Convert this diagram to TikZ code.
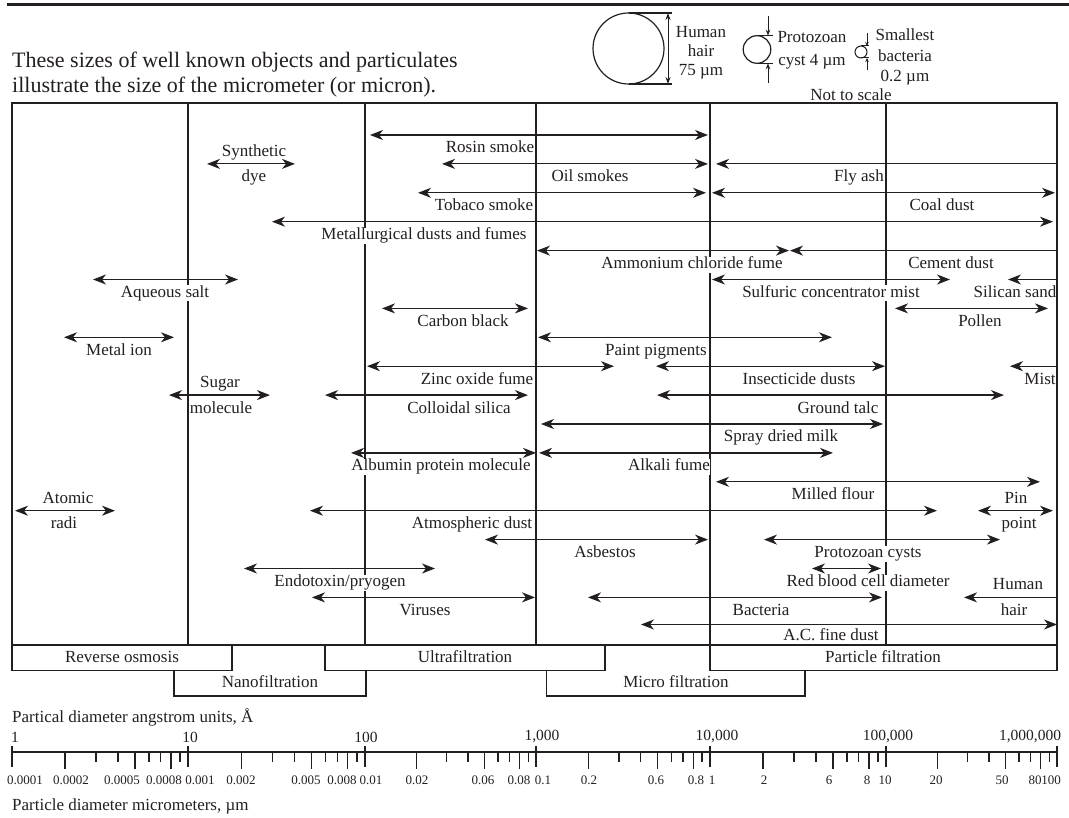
\documentclass[tikz,border=0pt]{standalone}
\usepackage{fontspec}
\setmainfont{Liberation Serif}
\usepackage{tikz}
\usetikzlibrary{arrows.meta}
\definecolor{ink}{RGB}{35,31,32}
\tikzstyle{spanbar} = [ink,line width=1.2pt,{Stealth[length=13pt,width=10pt,inset=4pt]}-{Stealth[length=13pt,width=10pt,inset=4pt]}]
\tikzstyle{spanleft} = [ink,line width=1.2pt,{Stealth[length=13pt,width=10pt,inset=4pt]}-]
\tikzstyle{lbl} = [fill=white,text=ink,inner sep=0.5pt,text height=11.5pt,text depth=3.5pt,font=\fontsize{17}{19}\selectfont]
\tikzstyle{note} = [text=ink,inner sep=0pt,align=center]
\tikzstyle{grid} = [ink,line width=1.2pt]
\tikzstyle{dim} = [ink,line width=1pt,{Stealth[length=7pt,width=5pt]}-{Stealth[length=7pt,width=5pt]}]
\tikzstyle{dimin} = [ink,line width=1pt,-{Stealth[length=6pt,width=4.5pt]}]
\tikzstyle{num} = [text=ink,inner sep=0pt,font=\fontsize{15.5}{17}\selectfont]
\tikzstyle{subnum} = [text=ink,inner sep=0pt,font=\fontsize{13}{15}\selectfont]

\begin{document}
\begin{tikzpicture}[x=1pt,y=-1pt]
\useasboundingbox (0,0) rectangle (1069,818);
% heading
\draw[ink,line width=2.4pt] (7,4.5) -- (1069,4.5);
\node[text=ink,inner sep=0pt,anchor=base west,font=\fontsize{22}{24}\selectfont] (head1) at (12,68) {These sizes of well known objects and particulates};
\node[text=ink,inner sep=0pt,anchor=base west,font=\fontsize{22}{24}\selectfont] (head2) at (12,93) {illustrate the size of the micrometer (or micron).};

% not to scale sketches
\draw[grid] (628.5,48.5) circle (35.5);
\draw[grid] (628.5,13) -- (672,13) (628.5,84) -- (672,84);
\draw[dim] (668,13) -- (668,84);
\node[note,font=\fontsize{17}{19}\selectfont] (hair) at (701,53) {Human\\hair\\75 µm};
\draw[grid] (757,49.5) circle (13.8);
\draw[grid] (757,35.7) -- (773,35.7) (757,63.3) -- (773,63.3);
\draw[dimin] (768,16) -- (768,35.7);
\draw[dimin] (768,83) -- (768,63.3);
\node[note,font=\fontsize{17}{23}\selectfont] (cyst) at (812,50) {Protozoan\\cyst 4 µm};
\draw[ink,line width=1pt] (861,52) circle (6);
\draw[ink,line width=1pt] (861,46) -- (869,46) (861,58) -- (869,58);
\draw[ink,line width=0.8pt,-{Stealth[length=4pt,width=3.5pt]}] (867,33) -- (867,46);
\draw[ink,line width=0.8pt,-{Stealth[length=4pt,width=3.5pt]}] (867,70) -- (867,58);
\node[note,font=\fontsize{17}{20.5}\selectfont] (bact) at (905,57) {Smallest\\bacteria\\0.2 µm};
\node[lbl,fill=none] (scale) at (851,97) {Not to scale};

% decade lines
\foreach \x in {188,365,536,710,886}
  \draw[grid] (\x,103) -- (\x,645);

% labels
\node[lbl] (rosin) at (490,149) {Rosin smoke};
\node[lbl] (synth) at (254,152.4) {Synthetic};
\node[lbl] (dye) at (254,177.9) {dye};
\node[lbl] (oil) at (590,177.9) {Oil smokes};
\node[lbl] (fly) at (859,177.9) {Fly ash};
\node[lbl] (tobaco) at (484,206.8) {Tobaco smoke};
\node[lbl] (coal) at (942,206.8) {Coal dust};
\node[lbl] (metal) at (424,235.7) {Metallurgical dusts and fumes};
\node[lbl] (ammon) at (692,264.6) {Ammonium chloride fume};
\node[lbl] (cement) at (951,264.6) {Cement dust};
\node[lbl] (aqueous) at (165,293.5) {Aqueous salt};
\node[lbl] (sulfur) at (831,293.5) {Sulfuric concentrator mist};
\node[lbl] (silican) at (1015,293.5) {Silican sand};
\node[lbl] (carbon) at (463,322.4) {Carbon black};
\node[lbl] (pollen) at (980,322.4) {Pollen};
\node[lbl] (ion) at (119,351.3) {Metal ion};
\node[lbl] (paint) at (656,351.3) {Paint pigments};
\node[lbl] (zinc) at (477,380.2) {Zinc oxide fume};
\node[lbl] (insect) at (799,380.2) {Insecticide dusts};
\node[lbl] (mist) at (1040,380.2) {Mist};
\node[lbl] (sugar) at (220,383.6) {Sugar};
\node[lbl] (molec) at (221,409.1) {molecule};
\node[lbl] (colloid) at (459,409.1) {Colloidal silica};
\node[lbl] (talc) at (838,409.1) {Ground talc};
\node[lbl] (milk) at (781,438) {Spray dried milk};
\node[lbl] (albumin) at (441,466.9) {Albumin protein molecule};
\node[lbl] (alkali) at (669,466.9) {Alkali fume};
\node[lbl] (flour) at (833,495.8) {Milled flour};
\node[lbl] (atomic) at (68,499.2) {Atomic};
\node[lbl] (radi) at (64,524.7) {radi};
\node[lbl] (atmos) at (472,524.7) {Atmospheric dust};
\node[lbl] (pin) at (1016,499.2) {Pin};
\node[lbl] (point) at (1019,524.7) {point};
\node[lbl] (asbest) at (605,553.6) {Asbestos};
\node[lbl] (proto) at (868,553.6) {Protozoan cysts};
\node[lbl] (endo) at (340,582.5) {Endotoxin/pryogen};
\node[lbl] (rbc) at (868,582.5) {Red blood cell diameter};
\node[lbl] (human) at (1018,585.9) {Human};
\node[lbl] (viruses) at (425,611.4) {Viruses};
\node[lbl] (bacteria) at (761,611.4) {Bacteria};
\node[lbl] (hhair) at (1014,611.4) {hair};
\node[lbl] (acdust) at (831,636.5) {A.C. fine dust};

% frame
\draw[grid] (12,103) rectangle (1057,645);

% ranges
\draw[spanbar] (370,135) -- (708,135);
\draw[spanbar] (207,163.9) -- (295,163.9);
\draw[spanbar] (442,163.9) -- (708,163.9);
\draw[spanleft] (716,163.9) -- (1057,163.9);
\draw[spanbar] (418,192.8) -- (706,192.8);
\draw[spanbar] (712,192.8) -- (1055,192.8);
\draw[spanbar] (272,221.7) -- (1053,221.7);
\draw[spanbar] (537,250.6) -- (789,250.6);
\draw[spanleft] (790,250.6) -- (1057,250.6);
\draw[spanbar] (93,279.5) -- (238,279.5);
\draw[spanbar] (712,279.5) -- (950,279.5);
\draw[spanleft] (1008,279.5) -- (1057,279.5);
\draw[spanbar] (382,308.4) -- (528,308.4);
\draw[spanbar] (895,308.4) -- (1048,308.4);
\draw[spanbar] (64,337.3) -- (174,337.3);
\draw[spanbar] (538,337.3) -- (832,337.3);
\draw[spanbar] (367,366.2) -- (614,366.2);
\draw[spanbar] (656,366.2) -- (885,366.2);
\draw[spanleft] (1010,366.2) -- (1057,366.2);
\draw[spanbar] (169,395.1) -- (270,395.1);
\draw[spanbar] (325,395.1) -- (528,395.1);
\draw[spanbar] (657,395.1) -- (1004,395.1);
\draw[spanbar] (541,424) -- (883,424);
\draw[spanbar] (351,452.9) -- (536,452.9);
\draw[spanbar] (539,452.9) -- (833,452.9);
\draw[spanbar] (716,481.8) -- (1040,481.8);
\draw[spanbar] (15,510.7) -- (115,510.7);
\draw[spanbar] (310,510.7) -- (937,510.7);
\draw[spanbar] (978,510.7) -- (1053,510.7);
\draw[spanbar] (485,539.6) -- (708,539.6);
\draw[spanbar] (764,539.6) -- (1000,539.6);
\draw[spanbar] (244,568.5) -- (435,568.5);
\draw[spanbar] (812,568.5) -- (881,568.5);
\draw[spanbar] (312,597.4) -- (535,597.4);
\draw[spanbar] (588,597.4) -- (882,597.4);
\draw[spanleft] (964,597.4) -- (1057,597.4);
\draw[spanbar] (641,624.5) -- (1057,624.5);

% filtration
\node[lbl,fill=none] (ro) at (122,658) {Reverse osmosis};
\draw[grid] (12,645) rectangle (232,670.5);
\node[lbl,fill=none] (nano) at (270,683.5) {Nanofiltration};
\draw[grid] (174,670.5) -- (174,696) -- (366,696) -- (366,670.5);
\node[lbl,fill=none] (ultra) at (465,658) {Ultrafiltration};
\draw[grid] (325,645) rectangle (605,670.5);
\node[lbl,fill=none] (micro) at (676,683.5) {Micro filtration};
\draw[grid] (546.5,670.5) -- (546.5,696) -- (805,696) -- (805,670.5);
\node[lbl,fill=none] (particle) at (883,658) {Particle filtration};
\draw[grid] (710,645) rectangle (1057,670.5);

% scale
\node[lbl,fill=none,anchor=west,inner sep=0pt] (angtitle) at (12,718) {Partical diameter angstrom units, Å};
\draw[grid] (12,752) -- (1057,752);
\foreach \a/\b in {12/188,188/365,365/536,536/710,710/886,886/1057}{
  \draw[grid] (\a,746) -- (\a,767);
  \foreach \k in {2,5,8}
    \draw[grid] ({\a+log10(\k)*(\b-\a)},752) -- ++(0,17);
  \foreach \k in {3,4,6,7,9}
    \draw[grid] ({\a+log10(\k)*(\b-\a)},752) -- ++(0,10);
}
\draw[grid] (1057,746) -- (1057,767);
\foreach \x/\t [count=\i] in {15/1,190/10,366/100,542/{1,000},717/{10,000},888/{100,000},1030/{1,000,000}}
  \node[num] (ang\i) at (\x,737) {\t};
\foreach \x/\t [count=\i] in {25/0.0001,71/0.0002,122/0.0005,164/0.0008,200/0.001,241/0.002,306/0.005,342/0.008,371/0.01,417/0.02,483/0.06,519/0.08,543/0.1,589/0.2,656/0.6,696/0.8,712/1,764/2,829/6,867/8,885/10,936/20,1002/50,1035/80,1051/100}
  \node[subnum] (mu\i) at (\x,780) {\t};
\node[lbl,fill=none,anchor=west,inner sep=0pt] (mutitle) at (12,806) {Particle diameter micrometers, µm};
\end{tikzpicture}
\end{document}
